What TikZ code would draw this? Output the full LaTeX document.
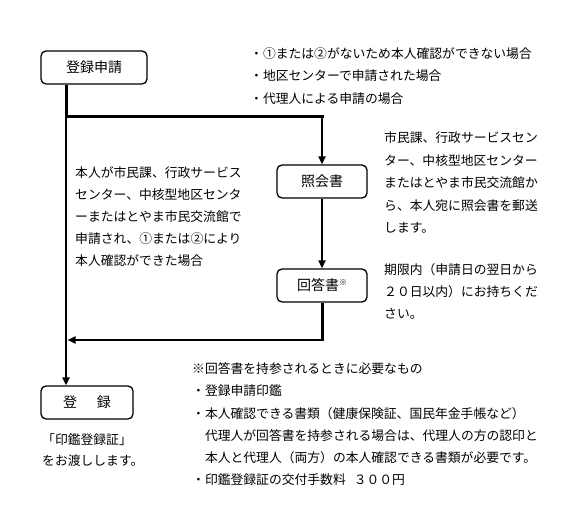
\documentclass[tikz,border=0pt]{standalone}
\usepackage{fontspec}
\setmainfont{Noto Sans CJK JP}
\usetikzlibrary{arrows.meta}
\begin{document}
\begin{tikzpicture}[x=1pt,y=-1pt,
  box/.style={draw,line width=1.3pt,rounded corners=5pt,fill=white,inner sep=0pt,minimum height=33pt,font=\fontsize{14}{16}\selectfont},
  txt/.style={anchor=north west,inner sep=0pt,align=left,font=\fontsize{12.8}{22.3}\selectfont},
  heavy/.style={line width=3pt},
  arr/.style={line width=2pt,-{Triangle[length=8pt,width=7pt]}}]
\useasboundingbox (0,0) rectangle (575,518);
% boxes
\node[box,minimum width=106pt] (reg) at (94,67.5) {登録申請};
\node[box,minimum width=90pt] (shokai) at (322,181.5) {照会書};
\node[box,minimum width=90pt] (kaito) at (322,285.5) {回答書\raisebox{5pt}{\fontsize{8}{8}\selectfont ※}};
\node[box,minimum width=92pt] (toroku) at (87,402.5) {登\hspace{20pt}録};
% junctions
\coordinate (j1) at (66,117);
\coordinate (j2) at (322,117);
\coordinate (j3) at (322,340);
\coordinate (j4) at (67.5,340);
% connectors
\draw[heavy] (reg.south -| j1) -- (j1);
\draw[heavy,line cap=rect] (j1) -- (j2);
\draw[arr] (j2) -- (shokai.north);
\draw[arr] (shokai.south) -- (kaito.north);
\draw[heavy] (kaito.south) -- (j3);
\draw[arr] ([xshift=1.5pt]j3) -- (j4);
\draw[arr] (j1) -- (toroku.north -| j1);
% texts
\node[txt] (cond) at (250,47.5) {・①または②がないため本人確認ができない場合\\・地区センターで申請された場合\\・代理人による申請の場合};
\node[txt,font=\fontsize{12.8}{22}\selectfont] (direct) at (75,166.5) {本人が市民課、行政サービス\\センター、中核型地区センタ\\ーまたはとやま市民交流館で\\申請され、①または②により\\本人確認ができた場合};
\node[txt,font=\fontsize{12.8}{22.5}\selectfont] (mail) at (384,131.5) {市民課、行政サービスセン\\ター、中核型地区センター\\またはとやま市民交流館か\\ら、本人宛に照会書を郵送\\します。};
\node[txt,font=\fontsize{12.8}{22}\selectfont] (due) at (384,263.5) {期限内（申請日の翌日から\\２０日以内）にお持ちくだ\\さい。};
\node[txt,font=\fontsize{12.8}{22.2}\selectfont] (need) at (192,362.5) {※回答書を持参されるときに必要なもの\\・登録申請印鑑\\・本人確認できる書類（健康保険証、国民年金手帳など）\\　代理人が回答書を持参される場合は、代理人の方の認印と\\　本人と代理人（両方）の本人確認できる書類が必要です。\\・印鑑登録証の交付手数料\hspace{8pt}３００円};
\node[txt,font=\fontsize{12.8}{21}\selectfont] (cert) at (42,433.5) {「印鑑登録証」\\をお渡しします。};
\end{tikzpicture}
\end{document}
